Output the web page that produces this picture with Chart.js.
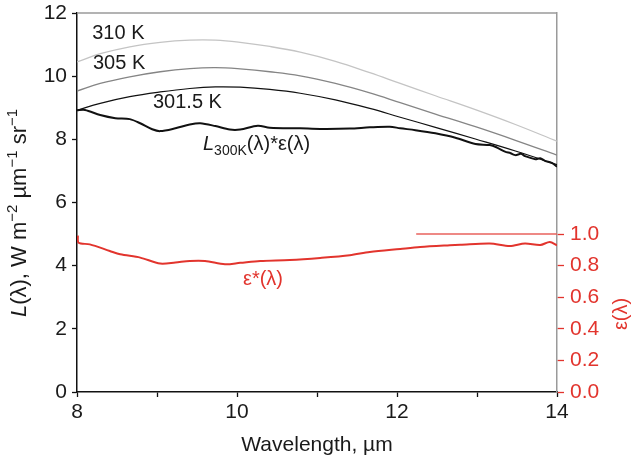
<!DOCTYPE html>
<html>
<head>
<meta charset="utf-8">
<script src="https://cdn.jsdelivr.net/npm/chart.js@4.4.1/dist/chart.umd.min.js"></script>
<style>
  html, body { margin: 0; padding: 0; background: #fff; }
  canvas { display: block; }
</style>
</head>
<body>
<canvas id="c" width="631" height="459"></canvas>
<script>
// ---- data ----
const lambdaPlanck = [8.0, 8.29, 8.66, 9.04, 9.41, 9.73, 10.04, 10.41, 10.79, 11.23, 11.66, 12.04, 12.48, 12.98, 13.48, 14.0];
const L310  = [10.45, 10.71, 10.93, 11.07, 11.14, 11.14, 11.07, 10.94, 10.76, 10.47, 10.11, 9.77, 9.38, 8.94, 8.47, 7.94];
const L305  = [9.53, 9.77, 9.98, 10.14, 10.24, 10.27, 10.23, 10.14, 10.01, 9.77, 9.47, 9.16, 8.80, 8.40, 7.97, 7.50];
const L3015 = [8.92, 9.14, 9.35, 9.50, 9.61, 9.66, 9.65, 9.58, 9.46, 9.25, 8.98, 8.70, 8.38, 8.01, 7.63, 7.20];

const lambdaMeas = [8.0, 8.1, 8.29, 8.48, 8.66, 8.79, 8.94, 9.04, 9.23, 9.41, 9.54, 9.73, 9.91, 10.04, 10.26, 10.41, 10.79, 11.04, 11.41, 11.66, 11.91, 12.04, 12.23, 12.48, 12.73, 12.98, 13.16, 13.25, 13.35, 13.42, 13.48, 13.55, 13.6, 13.66, 13.73, 13.79, 13.85, 13.94, 14.0];
const Lmeas = [8.92, 8.93, 8.77, 8.67, 8.64, 8.51, 8.32, 8.26, 8.35, 8.47, 8.51, 8.42, 8.31, 8.31, 8.43, 8.37, 8.35, 8.33, 8.34, 8.38, 8.40, 8.35, 8.29, 8.19, 8.05, 7.85, 7.82, 7.74, 7.61, 7.56, 7.50, 7.54, 7.47, 7.42, 7.37, 7.40, 7.32, 7.25, 7.13];

const lambdaEps = [8.01, 8.02, 8.16, 8.41, 8.54, 8.79, 9.04, 9.23, 9.41, 9.6, 9.85, 10.04, 10.29, 10.66, 11.04, 11.41, 11.66, 12.04, 12.29, 12.66, 12.79, 13.16, 13.41, 13.6, 13.79, 13.91, 14.0];
const eps = [0.99, 0.945, 0.935, 0.893, 0.872, 0.851, 0.813, 0.820, 0.830, 0.830, 0.809, 0.818, 0.830, 0.836, 0.849, 0.866, 0.887, 0.906, 0.918, 0.929, 0.932, 0.941, 0.925, 0.941, 0.931, 0.950, 0.929];

const lambdaRef = [12.24, 14.0];
const epsRef = [1.0, 1.0];

const xTicks = [8, 10, 12, 14];
const yTicks = [0, 2, 4, 6, 8, 10, 12];
const y2Ticks = [0.0, 0.2, 0.4, 0.6, 0.8, 1.0];

const curveLabels = ['310 K', '305 K', '301.5 K'];

// ---- helpers ----
const pts = (xs, ys) => xs.map((x, i) => ({ x: x, y: ys[i] }));
const RED = '#e2342d';
const TXT = '#1a1a1a';
const FONT = '"Liberation Sans", Arial, Helvetica, sans-serif';

function drawRich(ctx, segs, x, y, align, size) {
  size = size || 20;
  const small = Math.round(size * 0.7);
  const fnt = s => (s.italic ? 'italic ' : '') + ((s.sup || s.sub) ? small : size) + 'px ' + FONT;
  let total = 0;
  segs.forEach(s => { ctx.font = fnt(s); total += ctx.measureText(s.t).width; });
  let cx = align === 'center' ? x - total / 2 : x;
  ctx.textAlign = 'left';
  ctx.textBaseline = 'alphabetic';
  segs.forEach(s => {
    ctx.font = fnt(s);
    const dy = s.sup ? -size * 0.42 : (s.sub ? size * 0.25 : 0);
    ctx.fillText(s.t, cx, y + dy);
    cx += ctx.measureText(s.t).width;
  });
}

const decor = {
  id: 'decor',
  afterDraw(chart) {
    const { ctx, chartArea: a, scales } = chart;
    const X = scales.x, Y = scales.y;
    ctx.save();
    // top border
    ctx.strokeStyle = '#9a9a9a';
    ctx.lineWidth = 1.5;
    ctx.beginPath();
    ctx.moveTo(a.left, a.top);
    ctx.lineTo(a.right, a.top);
    ctx.stroke();

    // curve labels
    ctx.fillStyle = TXT;
    drawRich(ctx, [{ t: curveLabels[0] }], X.getPixelForValue(8.19), Y.getPixelForValue(11.17), 'left');
    drawRich(ctx, [{ t: curveLabels[1] }], X.getPixelForValue(8.2), Y.getPixelForValue(10.22), 'left');
    drawRich(ctx, [{ t: curveLabels[2] }], X.getPixelForValue(8.95), Y.getPixelForValue(8.99), 'left');
    drawRich(ctx, [{ t: 'L', italic: true }, { t: '300K', sub: true }, { t: '(λ)*ε(λ)' }],
      X.getPixelForValue(9.575), Y.getPixelForValue(7.66), 'left');
    ctx.fillStyle = RED;
    drawRich(ctx, [{ t: 'ε*(λ)' }], X.getPixelForValue(10.075), Y.getPixelForValue(3.39), 'left');

    // x axis title
    ctx.fillStyle = TXT;
    drawRich(ctx, [{ t: 'Wavelength, µm' }], (a.left + a.right) / 2, 451, 'center', 21);

    // left y title
    ctx.save();
    ctx.translate(26, 213);
    ctx.rotate(-Math.PI / 2);
    drawRich(ctx, [{ t: 'L', italic: true }, { t: '(λ), W m' }, { t: '−2', sup: true }, { t: ' µm' },
      { t: '−1', sup: true }, { t: ' sr' }, { t: '−1', sup: true }], 0, 0, 'center', 22);
    ctx.restore();

    // right y title
    ctx.save();
    ctx.fillStyle = RED;
    ctx.translate(627, 314);
    ctx.rotate(-Math.PI / 2);
    drawRich(ctx, [{ t: 'ε(λ)' }], 0, 0, 'center', 20);
    ctx.restore();

    ctx.restore();
  }
};

const noPad = s => { s.paddingTop = 0; s.paddingBottom = 0; s.paddingLeft = 0; s.paddingRight = 0; };

new Chart(document.getElementById('c'), {
  type: 'line',
  data: {
    datasets: [
      { label: '310 K', data: pts(lambdaPlanck, L310), borderColor: '#c4c4c4', borderWidth: 1.3, tension: 0.4, yAxisID: 'y' },
      { label: '305 K', data: pts(lambdaPlanck, L305), borderColor: '#858585', borderWidth: 1.3, tension: 0.4, yAxisID: 'y' },
      { label: '301.5 K', data: pts(lambdaPlanck, L3015), borderColor: '#111', borderWidth: 1.2, tension: 0.4, yAxisID: 'y' },
      { label: 'L300K*eps', data: pts(lambdaMeas, Lmeas), borderColor: '#111', borderWidth: 2, tension: 0.3, yAxisID: 'y' },
      { label: 'eps*', data: pts(lambdaEps, eps), borderColor: RED, borderWidth: 2, tension: 0.3, yAxisID: 'y2' },
      { label: 'eps=1', data: pts(lambdaRef, epsRef), borderColor: '#e8625c', borderWidth: 1.5, yAxisID: 'y2' }
    ]
  },
  options: {
    responsive: false,
    animation: false,
    events: [],
    layout: { padding: { top: 13, left: 0, right: 0, bottom: 0 } },
    elements: { point: { radius: 0 }, line: { fill: false } },
    plugins: { legend: { display: false }, tooltip: { enabled: false } },
    scales: {
      x: {
        type: 'linear', min: 8, max: 14,
        afterFit: s => { s.height = 67; noPad(s); },
        afterBuildTicks: s => { s.ticks = [8, 9, 10, 11, 12, 13, 14].map(v => ({ value: v })); },
        ticks: {
          autoSkip: false, maxRotation: 0, padding: 3, color: TXT,
          font: { family: FONT, size: 21 },
          callback: v => xTicks.includes(v) ? String(v) : ''
        },
        grid: { drawOnChartArea: false, drawTicks: true, tickLength: 5, color: '#111', tickWidth: 1.3 },
        border: { color: '#111', width: 1.5 }
      },
      y: {
        position: 'left', min: 0, max: 12,
        afterFit: s => { s.width = 77; noPad(s); },
        afterBuildTicks: s => { s.ticks = yTicks.map(v => ({ value: v })); },
        ticks: { padding: 5, color: TXT, font: { family: FONT, size: 21 }, callback: v => String(v) },
        grid: { drawOnChartArea: false, drawTicks: true, tickLength: 5, color: '#111', tickWidth: 1.3 },
        border: { color: '#111', width: 1.5 }
      },
      y2: {
        position: 'right', min: 0, max: 2.4,
        afterFit: s => { s.width = 74; noPad(s); },
        afterBuildTicks: s => { s.ticks = y2Ticks.map(v => ({ value: v })); },
        ticks: { padding: 6, color: RED, font: { family: FONT, size: 21 }, callback: v => v.toFixed(1) },
        grid: { drawOnChartArea: false, drawTicks: true, tickLength: 7, color: RED, tickWidth: 1.3 },
        border: { color: '#9a9a9a', width: 1.5 }
      }
    }
  },
  plugins: [decor]
});
</script>
</body>
</html>
